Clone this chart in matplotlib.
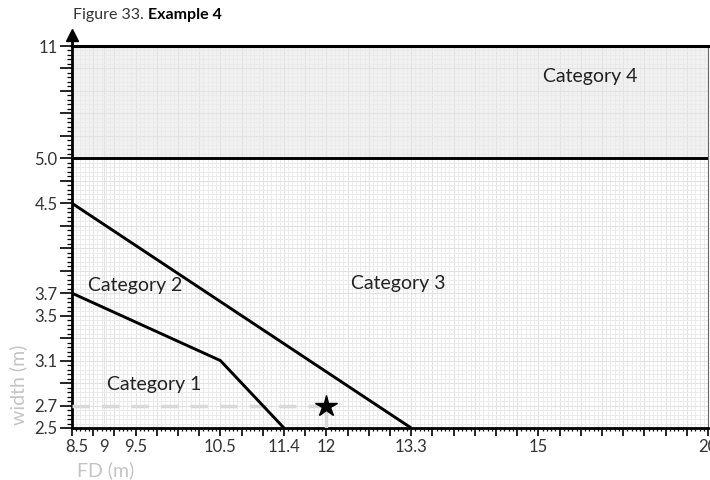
import matplotlib.pyplot as plt
import numpy as np
from matplotlib.scale import FuncScale
from matplotlib.transforms import ScaledTranslation

plt.rcParams['font.family'] = ['Lato', 'DejaVu Sans']

# axis values and where they sit on the drawn grid (grid units)
fd_vals = [8.5, 9, 9.5, 10.5, 11.4, 12, 13.3, 15, 20]
fd_pos = [0, 1.5, 3, 7, 10, 12, 16, 22, 30]
fd_labels = ['8.5', '9', '9.5', '10.5', '11.4', '12', '13.3', '15', '20']
width_vals = [2.5, 2.7, 3.1, 3.5, 3.7, 4.5, 5.0, 11]
width_pos = [0, 1, 3, 5, 6, 10, 12, 17]
width_labels = ['2.5', '2.7', '3.1', '3.5', '3.7', '4.5', '5.0', '11']

# category boundaries
outer_fd = [8.5, 13.3]
outer_w = [4.5, 2.5]
inner_fd = [8.5, 10.5, 11.4]
inner_w = [3.7, 3.1, 2.5]
cat4_lo, cat4_hi = 5.0, 11

# example
point_fd, point_w = 12, 2.7


def make_funcs(vals, pos):
    vals = np.asarray(vals, float)
    pos = np.asarray(pos, float)
    s0 = (pos[1] - pos[0]) / (vals[1] - vals[0])
    s1 = (pos[-1] - pos[-2]) / (vals[-1] - vals[-2])

    def fwd(v):
        v = np.asarray(v, float)
        out = np.interp(v, vals, pos)
        out = np.where(v < vals[0], pos[0] + (v - vals[0]) * s0, out)
        out = np.where(v > vals[-1], pos[-1] + (v - vals[-1]) * s1, out)
        return out

    def inv(u):
        u = np.asarray(u, float)
        out = np.interp(u, pos, vals)
        out = np.where(u < pos[0], vals[0] + (u - pos[0]) / s0, out)
        out = np.where(u > pos[-1], vals[-1] + (u - pos[-1]) / s1, out)
        return out

    return fwd, inv


fx, fx_inv = make_funcs(fd_vals, fd_pos)
fy, fy_inv = make_funcs(width_vals, width_pos)

fig = plt.figure(figsize=(7.1, 4.8), dpi=100)
ax = fig.add_axes([72 / 710, 52 / 480, 636 / 710, 382 / 480])
ax.set_xscale(FuncScale(ax.xaxis, (fx, fx_inv)))
ax.set_yscale(FuncScale(ax.yaxis, (fy, fy_inv)))
ax.set_xlim(fd_vals[0], fd_vals[-1])
ax.set_ylim(width_vals[0], width_vals[-1])

# shaded category 4 band
ax.axhspan(cat4_lo, cat4_hi, color='#f1f1f1', zorder=0.2, lw=0)

# boundaries
ax.plot(outer_fd, outer_w, color='black', lw=2.1, solid_capstyle='butt', zorder=3)
ax.plot(inner_fd, inner_w, color='black', lw=2.1, solid_capstyle='butt', zorder=3)
ax.axhline(cat4_lo, color='black', lw=2.1, zorder=3)
ax.axhline(cat4_hi, color='black', lw=2.2, zorder=3, clip_on=False)

# example point
ax.plot([fd_vals[0], point_fd], [point_w, point_w], color='#d9d9d9', lw=2.5,
        dashes=(5, 3.5), zorder=2.6)
ax.plot([point_fd, point_fd], [width_vals[0], point_w], color='#d9d9d9', lw=2.5,
        dashes=(5, 3.5), zorder=2.6)
ax.plot(point_fd, point_w, marker='*', color='black', ms=16, zorder=4)

# ticks: uniform comb plus the labelled values
xu = sorted(set(range(0, 31)) | set(fd_pos))
xt_labels = [fd_labels[fd_pos.index(u)] if u in fd_pos else '' for u in xu]
ax.set_xticks(fx_inv(xu), xt_labels)
ax.set_xticks(fx_inv(np.arange(0, 30.01, 0.2)), minor=True)
yu = list(range(0, 18))
yt_labels = [width_labels[width_pos.index(u)] if u in width_pos else '' for u in yu]
ax.set_yticks(fy_inv(yu), yt_labels)
ax.set_yticks(fy_inv(np.arange(0, 17.01, 0.2)), minor=True)

ax.tick_params(axis='x', which='major', length=6, width=1.2, pad=2,
               labelsize=12, labelcolor='#333333')
ax.tick_params(axis='x', which='minor', length=2.5, width=0.9)
ax.tick_params(axis='y', which='major', length=8.5, width=1.2, pad=2,
               labelsize=12, labelcolor='#333333')
ax.tick_params(axis='y', which='minor', length=3.5, width=0.9)

for t, u in zip(ax.xaxis.get_major_ticks(), xu):
    if u == 1.5:
        t.tick1line.set_visible(False)
    if u == 0:
        t.label1.set_transform(t.label1.get_transform()
                               + ScaledTranslation(5 / 100, 0, fig.dpi_scale_trans))

ax.set_axisbelow(True)
ax.grid(which='minor', color='#ebebeb', lw=0.7)
ax.grid(which='major', color='#e2e2e2', lw=0.8)

for s in ['left', 'bottom']:
    ax.spines[s].set_linewidth(2)
    ax.spines[s].set_color('black')
ax.spines['top'].set_visible(False)
ax.spines['right'].set_linewidth(0.8)
ax.spines['right'].set_color('#666666')

# arrow on the vertical axis
ax.plot([0, 0], [1, 1.03], transform=ax.transAxes, color='black', lw=2,
        clip_on=False)
ax.plot(0, 1.028, marker='^', ms=9, color='black', transform=ax.transAxes,
        clip_on=False)

# category names
cat_style = dict(ha='center', va='center', fontsize=14, color='#222222',
                 transform=ax.transAxes, zorder=5)
ax.text(0.814, 0.921, 'Category 4', **cat_style)
ax.text(0.513, 0.377, 'Category 3', **cat_style)
ax.text(0.099, 0.374, 'Category 2', **cat_style)
ax.text(0.130, 0.115, 'Category 1', **cat_style)

# axis titles
fig.text(18 / 710, 1 - 385 / 480, 'width (m)', rotation=90, ha='center', va='center',
         fontsize=14, color='#c4c4c4')
fig.text(77 / 710, 1 - 470 / 480, 'FD (m)', ha='left', va='center',
         fontsize=14, color='#c4c4c4')

# figure caption
t1 = fig.text(73 / 710, 1 - 22 / 480, 'Figure 33. ', ha='left', va='bottom',
              fontsize=11.5, color='#333333')
ax.annotate('Example 4', xy=(1, 0), xycoords=t1, ha='left', va='bottom',
            fontsize=11.5, fontweight='bold', color='black', annotation_clip=False)

fig.savefig('out.png', dpi=100)
